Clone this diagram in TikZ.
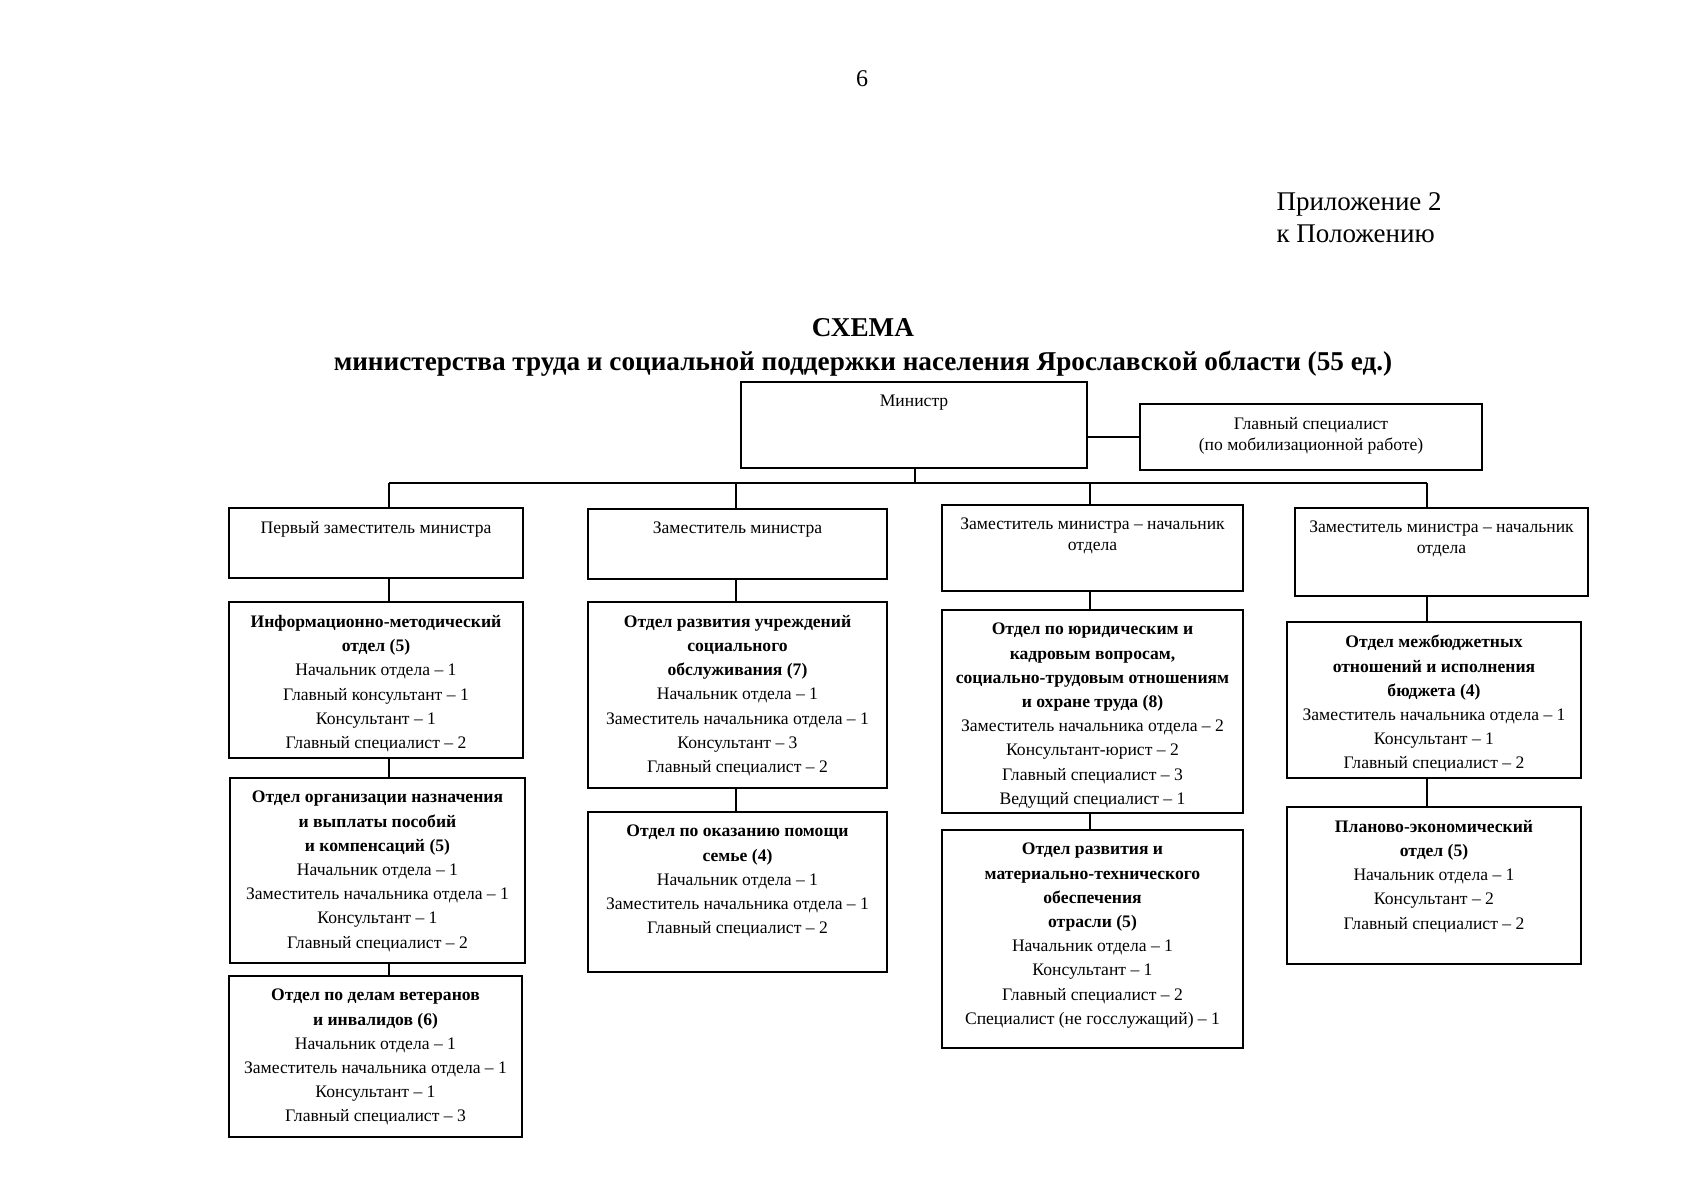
\documentclass[tikz,border=0pt]{standalone}
\usepackage{fontspec}
\setmainfont{Liberation Serif}
\usetikzlibrary{positioning}

\newcommand{\hd}[1]{\textbf{#1}}

\begin{document}
\begin{tikzpicture}[x=1pt,y=-1pt,
    unit/.style={draw,line width=2pt,inner sep=0pt,anchor=north west},
    link/.style={line width=1.3pt},
    inside/.style={label={[anchor=north,yshift=-14pt,align=center,inner sep=0pt,
      font=\fontsize{17.6}{24.2}\selectfont]north:{#1}}}]
  \useasboundingbox (0,0) rectangle (1696,1200);

  % header
  \node[font=\fontsize{24}{28}\selectfont] (pagenum) at (862,79) {6};
  \node[anchor=west,align=left,font=\fontsize{27}{32}\selectfont] (annex) at (1273,218)
    {Приложение 2\\к Положению};
  \node[align=center,font=\bfseries\fontsize{27.2}{34}\selectfont] (title) at (863,347)
    {СХЕМА\\министерства труда и социальной поддержки населения Ярославской области (55 ед.)};

  % top level
  \node[unit,minimum width=346,minimum height=86,inside={Министр}] (minister) at (740,381) {};
  \node[unit,minimum width=342,minimum height=66,align=center,font=\fontsize{17.6}{20.5}\selectfont] (mobil) at (1139,403)
    {Главный специалист\\(по мобилизационной работе)\\[-14pt]};

  % deputies
  \node[unit,minimum width=294,minimum height=70,inside={Первый заместитель министра}] (dep1) at (228,507) {};
  \node[unit,minimum width=299,minimum height=70,inside={Заместитель министра}] (dep2) at (587,508) {};
  \node[unit,minimum width=301,minimum height=86,inside={Заместитель министра – начальник\\[-3.5pt]отдела}] (dep3) at (941,504) {};
  \node[unit,minimum width=293,minimum height=88,inside={Заместитель министра – начальник\\[-3.5pt]отдела}] (dep4) at (1294,507) {};

  % column 1
  \node[unit,minimum width=294,minimum height=156,inside={\hd{Информационно-методический}\\\hd{отдел (5)}\\
    Начальник отдела – 1\\Главный консультант – 1\\Консультант – 1\\Главный специалист – 2}] (infodep) at (228,601) {};
  \node[unit,minimum width=295,minimum height=185,inside={\hd{Отдел организации назначения}\\\hd{и выплаты пособий}\\\hd{и компенсаций (5)}\\
    Начальник отдела – 1\\Заместитель начальника отдела – 1\\Консультант – 1\\Главный специалист – 2}] (paydep) at (229,777) {};
  \node[unit,minimum width=293,minimum height=161,inside={\hd{Отдел по делам ветеранов}\\\hd{и инвалидов (6)}\\
    Начальник отдела – 1\\Заместитель начальника отдела – 1\\Консультант – 1\\Главный специалист – 3}] (vetdep) at (228,975) {};

  % column 2
  \node[unit,minimum width=299,minimum height=186,inside={\hd{Отдел развития учреждений}\\\hd{социального}\\\hd{обслуживания (7)}\\
    Начальник отдела – 1\\Заместитель начальника отдела – 1\\Консультант – 3\\Главный специалист – 2}] (servdep) at (587,601) {};
  \node[unit,minimum width=299,minimum height=160,inside={\hd{Отдел по оказанию помощи}\\\hd{семье (4)}\\
    Начальник отдела – 1\\Заместитель начальника отдела – 1\\Главный специалист – 2}] (famdep) at (587,811) {};

  % column 3
  \node[unit,minimum width=301,minimum height=203,inside={\hd{Отдел по юридическим и}\\\hd{кадровым вопросам,}\\\hd{социально-трудовым отношениям}\\\hd{и охране труда (8)}\\
    Заместитель начальника отдела – 2\\Консультант-юрист – 2\\Главный специалист – 3\\Ведущий специалист – 1}] (lawdep) at (941,609) {};
  \node[unit,minimum width=301,minimum height=218,inside={\hd{Отдел развития и}\\\hd{материально-технического}\\\hd{обеспечения}\\\hd{отрасли (5)}\\
    Начальник отдела – 1\\Консультант – 1\\Главный специалист – 2\\Специалист (не госслужащий) – 1}] (techdep) at (941,829) {};

  % column 4
  \node[unit,minimum width=294,minimum height=156,inside={\hd{Отдел межбюджетных}\\\hd{отношений и исполнения}\\\hd{бюджета (4)}\\
    Заместитель начальника отдела – 1\\Консультант – 1\\Главный специалист – 2}] (budgdep) at (1286,621) {};
  \node[unit,minimum width=294,minimum height=157,inside={\hd{Планово-экономический}\\\hd{отдел (5)}\\
    Начальник отдела – 1\\Консультант – 2\\Главный специалист – 2}] (plandep) at (1286,806) {};

  % connectors
  \coordinate (bus) at (915,483);
  \coordinate (col1) at (389,483);
  \coordinate (col2) at (736,483);
  \coordinate (col3) at (1090,483);
  \coordinate (col4) at (1427,483);
  \draw[link] (mobil.west) -- (mobil.west -| minister.east);
  \draw[link] (bus |- minister.south) -- (bus);
  \draw[link] (col1) -- (col4);
  \draw[link] (col1) -- (col1 |- dep1.north);
  \draw[link] (col2) -- (col2 |- dep2.north);
  \draw[link] (col3) -- (col3 |- dep3.north);
  \draw[link] (col4) -- (col4 |- dep4.north);
  \draw[link] (col1 |- dep1.south) -- (col1 |- infodep.north);
  \draw[link] (col1 |- infodep.south) -- (col1 |- paydep.north);
  \draw[link] (col1 |- paydep.south) -- (col1 |- vetdep.north);
  \draw[link] (col2 |- dep2.south) -- (col2 |- servdep.north);
  \draw[link] (col2 |- servdep.south) -- (col2 |- famdep.north);
  \draw[link] (col3 |- dep3.south) -- (col3 |- lawdep.north);
  \draw[link] (col3 |- lawdep.south) -- (col3 |- techdep.north);
  \draw[link] (col4 |- dep4.south) -- (col4 |- budgdep.north);
  \draw[link] (col4 |- budgdep.south) -- (col4 |- plandep.north);
\end{tikzpicture}
\end{document}
